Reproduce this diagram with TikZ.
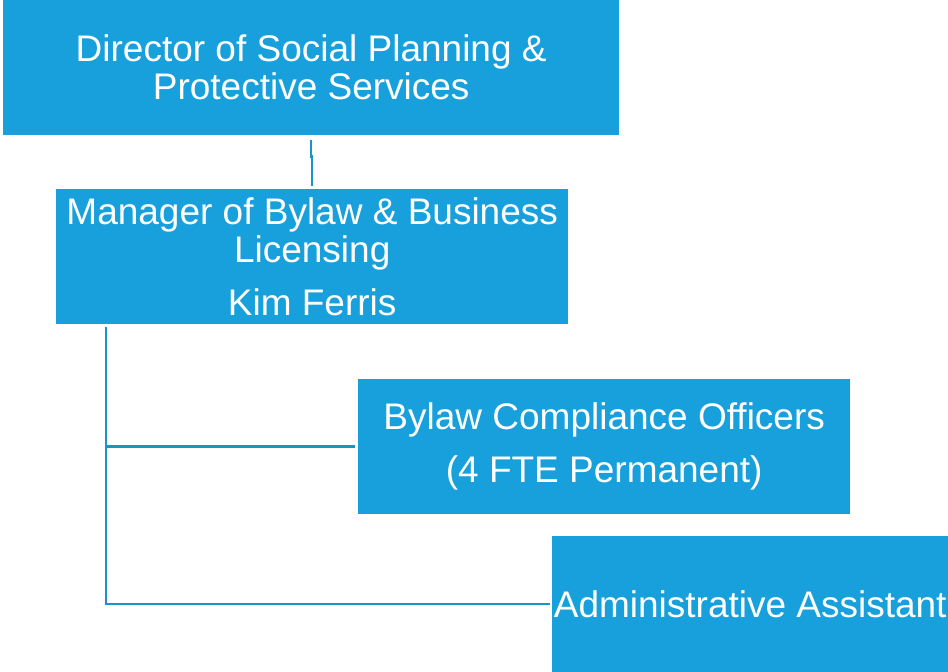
\documentclass[tikz,border=0pt]{standalone}
\usepackage{fontspec}
\setmainfont{Liberation Sans}
\usetikzlibrary{positioning}
\definecolor{boxblue}{HTML}{17A0DB}
\definecolor{lineblue}{HTML}{1A94C8}

\begin{document}
\begin{tikzpicture}[x=1pt, y=1pt,
		orgbox/.style={fill=boxblue, text=white, align=center, inner sep=0pt,
			font=\fontsize{37}{38}\selectfont, anchor=north west},
		orgline/.style={draw=lineblue, line width=2.5pt}]
		% page frame
		\useasboundingbox (0, 0) rectangle (948, -672);
		% the four boxes
		\node[orgbox, minimum width=616, minimum height=135] (director) at (3, 0)
			{Director of Social Planning \&\\Protective Services};
		\node[orgbox, minimum width=512, minimum height=135] (manager) at (56, -189)
			{Manager of Bylaw \& Business\\Licensing\\[15pt]Kim Ferris};
		\node[orgbox, minimum width=492, minimum height=135] (officers) at (358, -379)
			{Bylaw Compliance Officers\\[15pt](4 FTE Permanent)};
		\node[orgbox, minimum width=396, minimum height=136] (assistant) at (552, -536)
			{Administrative Assistant};
		% director to manager
		\draw[orgline, shorten <=5pt, shorten >=3pt] (director.south) -- ++(0, -21) -| (manager.north);
		% manager down to its staff
		\coordinate (trunk) at ([xshift=50pt, yshift=-3pt]manager.south west);
		\draw[orgline, shorten >=3pt] (trunk) |- (officers.west);
		\draw[orgline, shorten >=2pt] (trunk) |- (assistant.west);
	\end{tikzpicture}
\end{document}
